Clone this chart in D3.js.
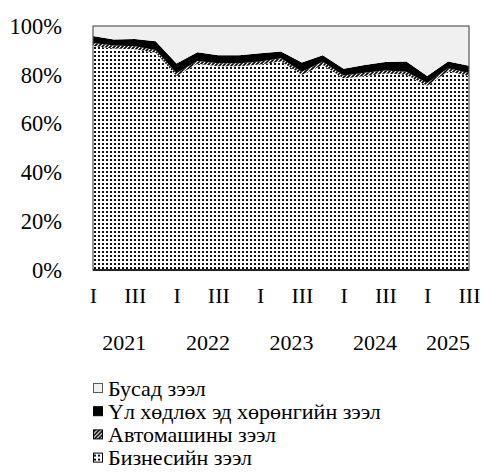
<!DOCTYPE html>
<html>
<head>
<meta charset="utf-8">
<script src="https://cdn.jsdelivr.net/npm/d3@7"></script>
<style>
  body { margin: 0; background: #fff; }
  svg { display: block; }
  svg text { font-family: "Liberation Serif", "DejaVu Serif", serif; }
</style>
</head>
<body>
<svg id="chart" width="482" height="474"></svg>
<script>
// Quarters 2021 I .. 2025 III
const years = ["2021", "2022", "2023", "2024", "2025"];
const quarterNames = ["I", "II", "III", "IV"];
const periods = [];
years.forEach(y => quarterNames.forEach(q => {
    if (!(y === "2025" && q === "IV")) periods.push(y + "-" + q);
}));

// Shares, % of total loans
const business   = [91.8, 90.8, 90.5, 89.0, 79.5, 84.5, 83.5, 83.5, 84.2, 85.5, 80.0, 84.0, 78.5, 79.5, 80.5, 80.0, 75.5, 81.5, 79.5];
const car        = [1.2, 1.2, 1.2, 1.2, 1.1, 1.2, 1.2, 1.2, 1.2, 1.3, 1.3, 1.3, 1.2, 1.3, 1.3, 1.3, 1.1, 1.2, 1.2];
const realEstate = [2.9, 2.5, 3.0, 3.6, 4.0, 3.5, 3.3, 3.3, 3.4, 2.8, 3.7, 2.7, 2.8, 3.2, 3.4, 4.1, 2.9, 2.7, 3.0];
const other      = business.map((d, i) => +(100 - d - car[i] - realEstate[i]).toFixed(1));

const yTicks = [0, 20, 40, 60, 80, 100];

const keys = ["business", "car", "realEstate", "other"];
const legendLabels = {
    other: "Бусад зээл",
    realEstate: "Үл хөдлөх эд хөрөнгийн зээл",
    car: "Автомашины зээл",
    business: "Бизнесийн зээл"
};

const rows = periods.map((p, i) => ({
    period: p,
    business: business[i],
    car: car[i],
    realEstate: realEstate[i],
    other: other[i]
}));

const svg = d3.select("#chart");
const margin = { left: 93, right: 13, top: 26, bottom: 204 };
const width = 482 - margin.left - margin.right;
const height = 474 - margin.top - margin.bottom;
const serif = "Liberation Serif";

// Patterns
const defs = svg.append("defs");
const dots = defs.append("pattern")
    .attr("id", "dots").attr("patternUnits", "userSpaceOnUse")
    .attr("width", 4).attr("height", 4);
dots.append("rect").attr("width", 4).attr("height", 4).attr("fill", "#fff");
dots.append("rect").attr("x", 1).attr("y", 1).attr("width", 2).attr("height", 2).attr("fill", "#111");

const hatch = defs.append("pattern")
    .attr("id", "hatch").attr("patternUnits", "userSpaceOnUse")
    .attr("width", 4).attr("height", 4);
hatch.append("rect").attr("width", 4).attr("height", 4).attr("fill", "#000");
hatch.append("path").attr("d", "M0,4 L4,0 M-1,1 L1,-1 M3,5 L5,3")
    .attr("stroke", "#fff").attr("stroke-width", 1.2);

const fills = {
    business: "url(#dots)",
    car: "url(#hatch)",
    realEstate: "#000",
    other: "#f0f0f0"
};

const g = svg.append("g").attr("transform", `translate(${margin.left},${margin.top})`);

const x = d3.scalePoint().domain(periods).range([0, width]);
const y = d3.scaleLinear().domain([0, 100]).range([height, 0]);

const series = d3.stack().keys(keys)(rows);

const area = d3.area()
    .x(d => x(d.data.period))
    .y0(d => y(d[0]))
    .y1(d => y(d[1]));

g.selectAll("path.layer")
    .data(series)
    .join("path")
    .attr("class", "layer")
    .attr("fill", d => fills[d.key])
    .attr("d", area);

// plot frame
g.append("rect")
    .attr("width", width).attr("height", height)
    .attr("fill", "none").attr("stroke", "#595959").attr("stroke-width", 1.2);
g.append("line")
    .attr("x1", 0).attr("x2", width).attr("y1", height).attr("y2", height)
    .attr("stroke", "#000").attr("stroke-width", 1.5);

// y axis
const yAxis = g.append("g")
    .call(d3.axisLeft(y).tickValues(yTicks).tickSize(0).tickPadding(31).tickFormat(d => d + "%"));
yAxis.select(".domain").remove();
yAxis.attr("font-family", serif);
yAxis.selectAll("text").attr("font-size", 22.5).attr("fill", "#000");

// quarter labels
const xAxis = g.append("g")
    .attr("transform", `translate(0,${height})`)
    .call(d3.axisBottom(x)
        .tickValues(periods.filter(p => p.endsWith("-I") || p.endsWith("-III")))
        .tickSize(0).tickPadding(17)
        .tickFormat(p => p.split("-")[1]));
xAxis.select(".domain").remove();
xAxis.attr("font-family", serif);
xAxis.selectAll("text").attr("font-size", 22).attr("fill", "#000");

// year labels
g.selectAll("text.year")
    .data(years)
    .join("text")
    .attr("class", "year")
    .attr("x", yr => {
        const ps = periods.filter(p => p.startsWith(yr));
        return (x(ps[0]) + x(ps[ps.length - 1])) / 2;
    })
    .attr("y", height + 72)
    .attr("dy", "0.35em")
    .attr("text-anchor", "middle")
    .attr("font-family", serif)
    .attr("font-size", 22)
    .text(yr => yr);

// legend
const legendKeys = ["other", "realEstate", "car", "business"];
const legend = svg.append("g").attr("transform", "translate(93,388)");
const item = legend.selectAll("g")
    .data(legendKeys)
    .join("g")
    .attr("transform", (d, i) => `translate(0,${i * 23.2})`);
item.append("rect")
    .attr("x", 0.5).attr("y", -4.5).attr("width", 9).attr("height", 9)
    .attr("fill", d => fills[d])
    .attr("stroke", d => d === "other" ? "#595959" : "#000")
    .attr("stroke-width", 1);
item.append("text")
    .attr("x", 15).attr("dy", "0.35em")
    .attr("font-family", serif)
    .attr("font-size", 22)
    .text(d => legendLabels[d]);
</script>
</body>
</html>
